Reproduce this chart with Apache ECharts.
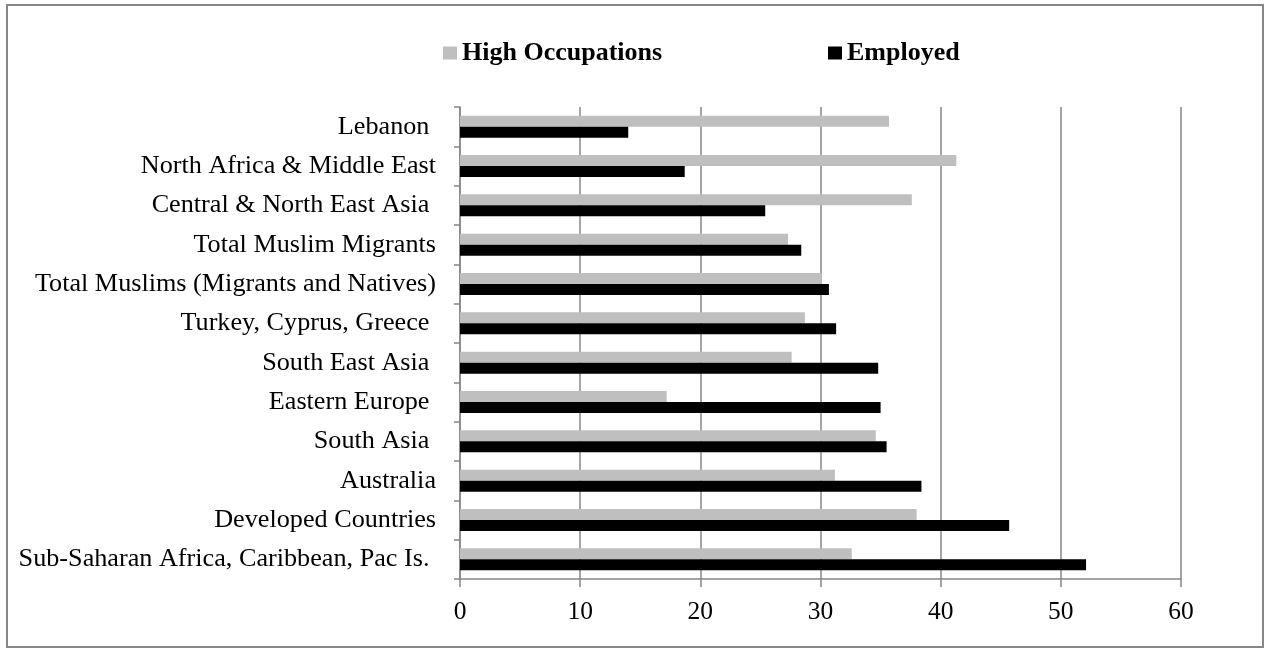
<!DOCTYPE html>
<html>
<head>
<meta charset="utf-8">
<script src="https://cdn.jsdelivr.net/npm/echarts@6/dist/echarts.min.js"></script>
<style>
  html, body { margin: 0; padding: 0; background: #fff; }
  #chart { position: absolute; left: 0; top: 0; width: 1268px; height: 652px; }
  #frame { position: absolute; left: 6px; top: 4px; width: 1254px; height: 640px;
           border: 2px solid #878787; pointer-events: none; }
</style>
</head>
<body>
<div id="chart"></div>
<div id="frame"></div>
<script>
// Categories, top to bottom as shown
const categories = [
  "Lebanon ",
  "North Africa & Middle East",
  "Central & North East Asia ",
  "Total Muslim Migrants",
  "Total Muslims (Migrants and Natives)",
  "Turkey, Cyprus, Greece ",
  "South East Asia ",
  "Eastern Europe ",
  "South Asia ",
  "Australia",
  "Developed Countries",
  "Sub-Saharan Africa, Caribbean, Pac Is. "
];
const highOccupations = [35.7, 41.3, 37.6, 27.3, 30.1, 28.7, 27.6, 17.2, 34.6, 31.2, 38.0, 32.6];
const employed        = [14.0, 18.7, 25.4, 28.4, 30.7, 31.3, 34.8, 35.0, 35.5, 38.4, 45.7, 52.1];
const xTicks = { min: 0, max: 60, interval: 10 };

const FONT = '"Liberation Serif", "Times New Roman", serif';
const chart = echarts.init(document.getElementById('chart'), null, { renderer: 'canvas' });
const legendText = { fontFamily: FONT, fontWeight: 'bold', fontSize: 26, color: '#000' };
chart.setOption({
  animation: false,
  backgroundColor: '#fff',
  legend: [
    {
      data: ['High Occupations'], left: 443, top: 40, padding: 0, icon: 'rect',
      itemWidth: 14, itemHeight: 13, itemGap: 0, textStyle: legendText
    },
    {
      data: ['Employed'], left: 828, top: 40, padding: 0, icon: 'rect',
      itemWidth: 14, itemHeight: 13, itemGap: 0, textStyle: legendText
    }
  ],
  grid: { left: 460, right: 87, top: 107, bottom: 73, containLabel: false },
  xAxis: {
    type: 'value', min: xTicks.min, max: xTicks.max, interval: xTicks.interval,
    axisLine: { show: true, lineStyle: { color: '#878787', width: 1.5 } },
    axisTick: { show: true, length: 8, lineStyle: { color: '#878787', width: 1.5 } },
    splitLine: { show: true, lineStyle: { color: '#878787', width: 1.5 } },
    axisLabel: { fontFamily: FONT, fontSize: 25.5, color: '#000', margin: 20 }
  },
  yAxis: {
    type: 'category', data: categories, inverse: true,
    axisLine: { show: true, lineStyle: { color: '#878787', width: 1.5 } },
    axisTick: { show: true, length: 6, lineStyle: { color: '#878787', width: 1.5 } },
    axisLabel: { fontFamily: FONT, fontSize: 26.2, color: '#000', margin: 24, interval: 0 }
  },
  series: [
    {
      name: 'High Occupations', type: 'bar', data: highOccupations,
      barWidth: 11, barGap: '0%',
      itemStyle: { color: '#bfbfbf' }
    },
    {
      name: 'Employed', type: 'bar', data: employed,
      barWidth: 11, barGap: '0%',
      itemStyle: { color: '#000000' }
    }
  ]
});
</script>
</body>
</html>
